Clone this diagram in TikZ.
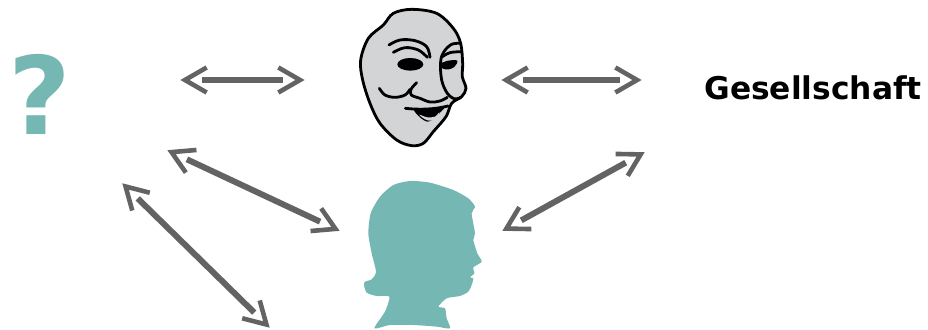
\documentclass[tikz,border=0pt]{standalone}
\usepackage{fontspec}
\usetikzlibrary{arrows.meta,calc}
\setmainfont{DejaVu Sans}
\definecolor{teal1}{HTML}{74B7B3}
\definecolor{arrowgrey}{HTML}{636363}
\definecolor{maskgrey}{HTML}{D3D4D6}
\tikzset{
  shaftline/.style={draw=arrowgrey,line width=6pt,shorten >=22pt,shorten <=22pt},
  barbline/.style={draw=arrowgrey,line width=4.6pt,miter limit=10},
  maskline/.style={draw=black,line width=2.8pt,line cap=round,line join=round},
  maskfill/.style={fill=black},
  inzoomA/.style={shift={(340,0)},x=0.3333pt,y=-0.3333pt},
  inzoomB/.style={shift={(340,170)},x=0.3333pt,y=-0.3333pt}
}
\begin{document}
\begin{tikzpicture}[x=1pt,y=-1pt]
\useasboundingbox (0,0) rectangle (928,329);
\node[anchor=center,inner sep=0pt,text=teal1,font=\bfseries\fontsize{108}{108}\selectfont] (q) at (40,94) {?};
\node[anchor=center,inner sep=0pt,font=\bfseries\fontsize{31.3}{31.3}\selectfont] (soc) at (813,88) {Gesellschaft};
% mask
\begin{scope}[inzoomA]
\draw[maskline,fill=maskgrey] plot[smooth cycle,tension=0.55] coordinates {(215,28)(290,40)(340,85)(362,130)(368,190)(367,230)(378,265)(365,290)(335,310)(318,350)(280,395)(250,430)(215,437)(170,420)(120,370)(90,310)(68,240)(62,180)(85,115)(130,75)(160,40)};
\draw[maskline] plot[smooth,tension=0.6] coordinates {(147,135)(180,120)(225,122)(260,140)(270,172)};
\draw[maskline] plot[smooth,tension=0.6] coordinates {(160,157)(195,143)(235,150)(262,172)};
\draw[maskline] plot[smooth,tension=0.6] coordinates {(362,130)(335,133)(312,155)(302,185)(305,240)(322,280)(345,297)(362,292)};
\draw[maskline] plot[smooth,tension=0.6] coordinates {(307,170)(330,158)(362,155)};
\fill[maskfill] (211,193) ellipse[x radius=39,y radius=19];
\fill[maskfill] plot[smooth cycle,tension=0.6] coordinates {(298,195)(320,183)(352,182)(340,203)(315,208)};
\draw[maskline] plot[smooth,tension=0.6] coordinates {(118,265)(135,285)(165,292)(195,285)(210,268)};
\draw[maskline] plot[smooth,tension=0.6] coordinates {(230,248)(213,268)(214,285)(240,295)(270,306)(300,303)(322,292)};
\draw[maskline] (196,325) .. controls (240,330) and (285,328) .. (324,318);
\fill[maskfill] plot[smooth cycle,tension=0.5] coordinates {(222,328)(265,326)(312,322)(300,338)(285,355)(262,365)(240,352)};
\fill[maskgrey] plot[smooth cycle,tension=0.5] coordinates {(238,344)(262,352)(285,350)(298,337)(288,360)(262,361)(246,352)};
\end{scope}
% head
\begin{scope}[inzoomB]
\fill[teal1] plot[smooth cycle,tension=0.4] coordinates {(103,475)(135,425)(148,380)(110,378)(80,368)(72,345)(75,335)(95,328)(108,305)(95,250)(85,190)(92,130)(120,80)(160,45)(210,33)(270,38)(340,60)(385,85)(405,110)(395,130)(405,190)(400,210)(412,250)(425,275)(400,292)(403,310)(390,322)(400,325)(395,345)(385,365)(360,378)(320,385)(295,410)(315,415)(320,445)(330,475)(290,470)(220,465)(150,465)};
\end{scope}
\coordinate (a1) at (180,80); \coordinate (a2) at (305,80);
\coordinate (b1) at (501,80); \coordinate (b2) at (642,80);
\coordinate (c1) at (167,150); \coordinate (c2) at (340,231);
\coordinate (d1) at (122,183); \coordinate (d2) at (270,328);
\coordinate (e1) at (645,152); \coordinate (e2) at (502,231);
\foreach \p/\r in {a1/a2,b1/b2,c1/c2,d1/d2,e1/e2}{
  \draw[shaftline] (\p) -- (\r);
  \coordinate (t1) at ($(\p)!5pt!(\r)$);
  \coordinate (t2) at ($(\r)!5pt!(\p)$);
  \draw[barbline] ($(t1)!25pt!30:(\r)$) -- (t1) -- ($(t1)!25pt!-30:(\r)$);
  \draw[barbline] ($(t2)!25pt!30:(\p)$) -- (t2) -- ($(t2)!25pt!-30:(\p)$);
}
\end{tikzpicture}
\end{document}
